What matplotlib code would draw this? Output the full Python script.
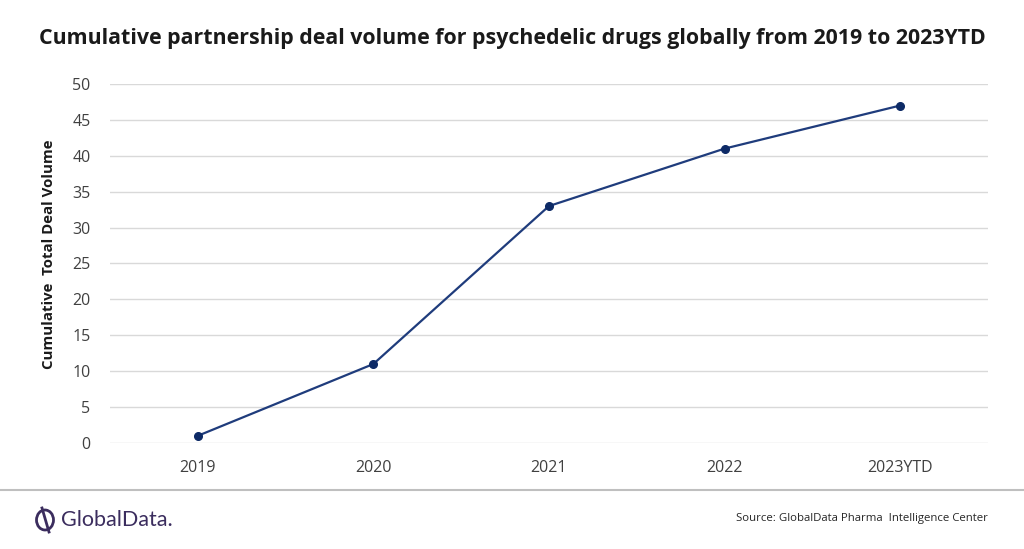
import matplotlib
matplotlib.use("Agg")
import matplotlib.pyplot as plt
from matplotlib.patches import Ellipse
from matplotlib.lines import Line2D

# Data
years = ["2019", "2020", "2021", "2022", "2023YTD"]
deal_volume = [1, 11, 33, 41, 47]
y_ticks = [0, 5, 10, 15, 20, 25, 30, 35, 40, 45, 50]

plt.rcParams['font.family'] = ['Open Sans', 'DejaVu Sans']

fig = plt.figure(figsize=(10.24, 5.49), dpi=100)
ax = fig.add_axes([0.1074, 0.1931, 0.8574, 0.6539])

x = list(range(len(years)))
ax.plot(x, deal_volume, color='#1f3c7c', linewidth=1.6, marker='o',
        markersize=5.5, markerfacecolor='#0d2a66', markeredgecolor='#0d2a66',
        zorder=3)

ax.set_xlim(-0.5, len(years) - 0.5)
ax.set_ylim(0, 50)
ax.set_yticks(y_ticks)
ax.set_xticks(x)
ax.set_xticklabels(years)
ax.grid(axis='y', color='#d9d9d9', linewidth=1)
ax.set_axisbelow(True)
for s in ax.spines.values():
    s.set_visible(False)
ax.tick_params(axis='both', length=0, labelsize=11.5, colors='#404040')
ax.tick_params(axis='y', pad=14)
ax.tick_params(axis='x', pad=12)

ax.set_ylabel("Cumulative  Total Deal Volume", fontsize=10.8, fontweight='bold',
              color='#1a1a1a')
ax.yaxis.set_label_coords(-0.0615, 0.526)

fig.text(0.5, 0.93, "Cumulative partnership deal volume for psychedelic drugs globally from 2019 to 2023YTD",
         ha='center', va='center', fontsize=15.4, fontweight='bold', color='#1a1a1a')

# footer separator
fig.add_artist(Line2D([0, 1], [1 - 490 / 549, 1 - 490 / 549], color='#bfbfbf',
                      linewidth=1.5, transform=fig.transFigure))

# GlobalData logo (approximation)
fig.add_artist(Ellipse((45 / 1024, 1 - 520 / 549), 17 / 1024, 20 / 549, fill=False,
                       edgecolor='#3b2d5e', linewidth=2, transform=fig.transFigure))
fig.add_artist(Line2D([42 / 1024, 49 / 1024], [1 - 508 / 549, 1 - 532 / 549],
                      color='#3b2d5e', linewidth=2, transform=fig.transFigure))
fig.text(61 / 1024, 1 - 520 / 549, "GlobalData.", ha='left', va='center',
         fontsize=15.5, color='#3b2d5e', family=['Lato', 'DejaVu Sans'])

fig.text(988 / 1024, 1 - 519 / 549, "Source: GlobalData Pharma  Intelligence Center",
         ha='right', va='center', fontsize=8.2, color='#262626')

fig.savefig("out.png", dpi=100)
